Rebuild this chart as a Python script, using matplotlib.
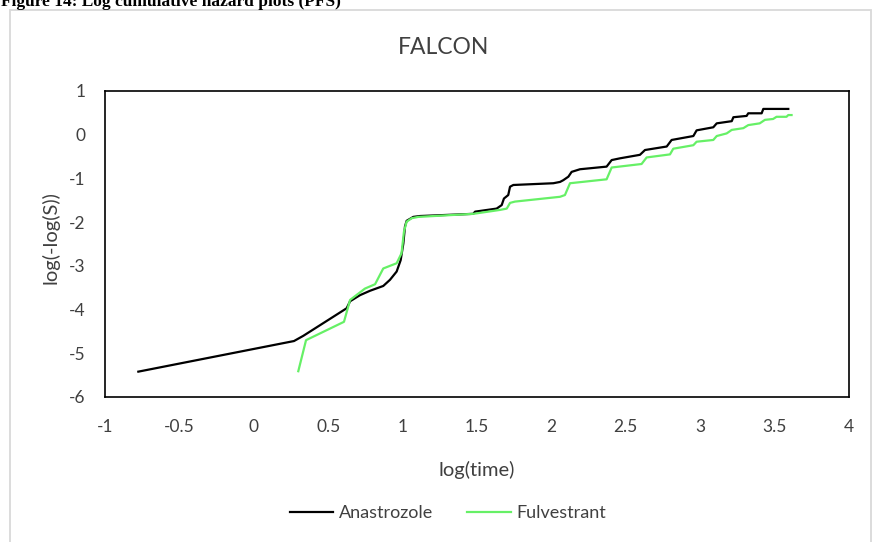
import matplotlib
matplotlib.use("Agg")
import matplotlib.pyplot as plt
from matplotlib.patches import Rectangle

# log(time) and log(-log(S)) for each arm
anastrozole_x = [-0.776, 0.270, 0.333, 0.624, 0.647, 0.714, 0.781, 0.870, 0.915, 0.960, 0.987,
                 1.005, 1.016, 1.027, 1.072, 1.117, 1.475, 1.487, 1.632, 1.666, 1.681, 1.710,
                 1.722, 1.744, 2.013, 2.058, 2.080, 2.114, 2.136, 2.192, 2.371, 2.405, 2.461,
                 2.595, 2.629, 2.775, 2.808, 2.954, 2.976, 3.088, 3.111, 3.212, 3.223, 3.312,
                 3.323, 3.413, 3.424, 3.592]
anastrozole_y = [-5.42, -4.72, -4.60, -3.97, -3.81, -3.67, -3.57, -3.46, -3.32, -3.13, -2.87,
                 -2.49, -2.10, -1.97, -1.88, -1.86, -1.81, -1.76, -1.69, -1.61, -1.46, -1.38,
                 -1.19, -1.15, -1.11, -1.08, -1.04, -0.96, -0.85, -0.79, -0.73, -0.58, -0.54,
                 -0.46, -0.35, -0.27, -0.12, -0.03, 0.10, 0.17, 0.26, 0.31, 0.40, 0.43,
                 0.49, 0.49, 0.59, 0.59]

fulvestrant_x = [0.299, 0.351, 0.606, 0.647, 0.747, 0.815, 0.870, 0.960, 0.993, 1.009, 1.027,
                 1.061, 1.106, 1.475, 1.655, 1.700, 1.722, 1.755, 2.058, 2.091, 2.125, 2.371,
                 2.405, 2.606, 2.640, 2.797, 2.819, 2.954, 2.976, 3.088, 3.111, 3.178, 3.212,
                 3.290, 3.323, 3.400, 3.435, 3.490, 3.513, 3.580, 3.592, 3.614]
fulvestrant_y = [-5.41, -4.70, -4.28, -3.78, -3.52, -3.42, -3.06, -2.94, -2.71, -2.22, -1.99,
                 -1.91, -1.88, -1.81, -1.72, -1.69, -1.56, -1.53, -1.42, -1.38, -1.11, -1.02,
                 -0.75, -0.67, -0.52, -0.45, -0.32, -0.24, -0.16, -0.12, -0.03, 0.03, 0.11,
                 0.15, 0.22, 0.26, 0.34, 0.36, 0.41, 0.41, 0.45, 0.45]

x_ticks = [-1, -0.5, 0, 0.5, 1, 1.5, 2, 2.5, 3, 3.5, 4]
y_ticks = [1, 0, -1, -2, -3, -4, -5, -6]

W, H = 872, 542
fig = plt.figure(figsize=(W / 100, H / 100), dpi=100)
fig.patch.set_facecolor("white")

font = ["Lato", "DejaVu Sans"]
grey = "#404040"

# chart frame
fig.patches.append(Rectangle((10 / W, -0.05), (W - 11) / W, 1.05 - 10 / H,
                             transform=fig.transFigure, fill=False,
                             edgecolor="#d9d9d9", linewidth=1.3))

fig.text(1 / W, 1 - 6 / H, "Figure 14: Log cumulative hazard plots (PFS)",
         fontsize=12.5, fontweight="bold", family="Liberation Serif",
         ha="left", va="baseline")

ax = fig.add_axes([105 / W, 1 - 397 / H, (849 - 105) / W, (397 - 91) / H])
ax.plot(anastrozole_x, anastrozole_y, color="black", linewidth=1.6, label="Anastrozole")
ax.plot(fulvestrant_x, fulvestrant_y, color="#66F066", linewidth=1.6, label="Fulvestrant")

ax.set_xlim(-1, 4)
ax.set_ylim(-6, 1)
ax.set_xticks(x_ticks)
ax.set_xticklabels([f"{t:g}" for t in x_ticks])
ax.set_yticks(y_ticks)
ax.set_yticklabels([f"{t:g}" for t in y_ticks])
ax.tick_params(axis="x", length=0, labelsize=12.5, colors=grey, pad=16)
ax.tick_params(axis="y", length=0, labelsize=12.5, colors=grey, pad=14)
for lab in ax.get_xticklabels() + ax.get_yticklabels():
    lab.set_family(font)
for s in ax.spines.values():
    s.set_linewidth(1.2)
    s.set_color("black")

ax.set_xlabel("log(time)", fontsize=14.5, family=font, color=grey)
ax.xaxis.set_label_coords(0.5, (397 - 470) / 306)
ax.xaxis.label.set_va("center")
ax.set_ylabel("log(-log(S))", fontsize=14.5, family=font, color=grey)
ax.yaxis.set_label_coords((50 - 105) / 744, (397 - 238) / 306)
ax.yaxis.label.set_va("center")
ax.yaxis.label.set_ha("center")

fig.text(444 / W, 1 - 47 / H, "FALCON", fontsize=16.5, family=font,
         color=grey, ha="center", va="center")

leg = fig.legend(loc="center", bbox_to_anchor=(448 / W, 1 - 513 / H), ncol=2,
                 frameon=False, prop={"family": font, "size": 13},
                 handlelength=2.4, columnspacing=1.9, handletextpad=0.3)
for t in leg.get_texts():
    t.set_color(grey)

fig.savefig("out.png", dpi=100, facecolor="white")
